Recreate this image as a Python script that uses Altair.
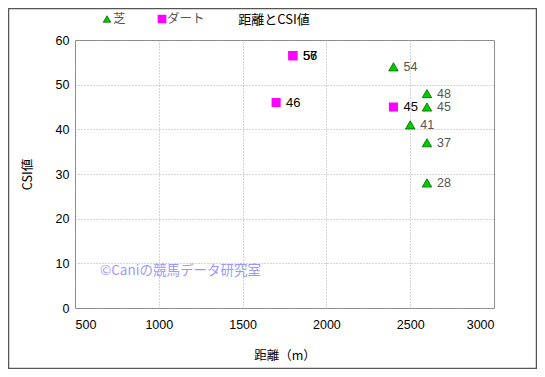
import altair as alt
import pandas as pd

# --- data ---
turf_dist = [2400, 2600, 2600, 2500, 2600, 2600]
turf_csi = [54, 48, 45, 41, 37, 28]
turf_label = ["54", "48", "45", "41", "37", "28"]

dirt_dist = [1800, 1800, 1700, 2400]
dirt_csi = [56.5, 56.5, 46, 45]
dirt_label = ["56", "57", "46", "45"]

x_ticks = [500, 1000, 1500, 2000, 2500, 3000]
y_ticks = [0, 10, 20, 30, 40, 50, 60]

title_text = "距離とCSI値"
x_title = "距離（m）"
y_title = "CSI値"
legend_turf = "芝"
legend_dirt = "ダート"
watermark = "©Caniの競馬データ研究室"

turf = pd.DataFrame({"dist": turf_dist, "csi": turf_csi, "label": turf_label})
dirt = pd.DataFrame({"dist": dirt_dist, "csi": dirt_csi, "label": dirt_label})
one = pd.DataFrame({"a": [0]})

NUM_FONT = "Liberation Sans, Arial, Noto Sans CJK JP"
JP_FONT = "Noto Sans CJK JP"

W, H = 419, 268

xs = alt.X("dist:Q",
           scale=alt.Scale(domain=[500, 3000], nice=False, zero=False),
           axis=alt.Axis(values=x_ticks, title=x_title, titlePadding=19,
                         labelPadding=10, format="d"))
ys = alt.Y("csi:Q",
           scale=alt.Scale(domain=[0, 60], nice=False),
           axis=alt.Axis(values=y_ticks, title=y_title, titlePadding=21,
                         labelPadding=6))

frame = alt.Chart(one).mark_rect(fill=None, stroke="#555555", strokeWidth=1.5).encode(
    x=alt.value(-66.5), x2=alt.value(W + 42.5),
    y=alt.value(-31.5), y2=alt.value(H + 60.5))

turf_pts = alt.Chart(turf).mark_point(
    shape="triangle-up", filled=True, fill="#00cc00", stroke="#006600",
    strokeWidth=0.8, size=90, opacity=1).encode(x=xs, y=ys)
turf_txt = alt.Chart(turf).mark_text(
    align="left", baseline="middle", dx=10, fontSize=12.5, font=NUM_FONT,
    color="#555555").encode(x="dist:Q", y="csi:Q", text="label:N")

dirt_pts = alt.Chart(dirt).mark_point(
    shape="square", filled=True, fill="#ff00ff", stroke="#ff00ff",
    size=50, opacity=1).encode(x="dist:Q", y="csi:Q")
dirt_txt = alt.Chart(dirt).mark_text(
    align="left", baseline="middle", dx=10, fontSize=13, font=NUM_FONT,
    color="#000000").encode(x="dist:Q", y="csi:Q", text="label:N")

title = alt.Chart(one).mark_text(
    align="center", baseline="middle", fontSize=13, font=JP_FONT, color="#000000"
).encode(x=alt.value(199), y=alt.value(-20), text=alt.value(title_text))

leg_tri = alt.Chart(one).mark_point(
    shape="triangle-up", filled=True, fill="#00cc00", stroke="#006600",
    strokeWidth=0.8, size=55, opacity=1).encode(x=alt.value(32), y=alt.value(-21))
leg_tri_t = alt.Chart(one).mark_text(
    align="left", baseline="middle", fontSize=12.5, font=JP_FONT, color="#555555"
).encode(x=alt.value(38), y=alt.value(-21), text=alt.value(legend_turf))
leg_sq = alt.Chart(one).mark_point(
    shape="square", filled=True, fill="#ff00ff", stroke="#ff00ff",
    size=45, opacity=1).encode(x=alt.value(87), y=alt.value(-21))
leg_sq_t = alt.Chart(one).mark_text(
    align="left", baseline="middle", fontSize=12.5, font=JP_FONT, color="#555555"
).encode(x=alt.value(92), y=alt.value(-21), text=alt.value(legend_dirt))

wm = alt.Chart(one).mark_text(
    align="left", baseline="middle", fontSize=13.5, font=JP_FONT, color="#9999ff"
).encode(x=alt.value(25), y=alt.value(231), text=alt.value(watermark))

chart = alt.layer(
    frame, turf_pts, turf_txt, dirt_pts, dirt_txt, title,
    leg_tri, leg_tri_t, leg_sq, leg_sq_t, wm
).properties(
    width=W, height=H,
    autosize=alt.AutoSizeParams(type="none"),
    padding={"left": 67, "top": 32, "right": 43, "bottom": 61},
    background="white",
).configure_view(
    stroke="#808080", strokeWidth=1
).configure_axis(
    domain=False, ticks=False,
    grid=True, gridColor="#aaaaaa", gridDash=[1, 2], gridWidth=1,
    labelFont=NUM_FONT, labelFontSize=12.5, labelColor="#000000",
    titleFont=JP_FONT, titleFontSize=12.5, titleFontWeight="normal",
    titleColor="#000000",
)

chart.save("out.html", embed_options={"renderer": "svg", "actions": False})
